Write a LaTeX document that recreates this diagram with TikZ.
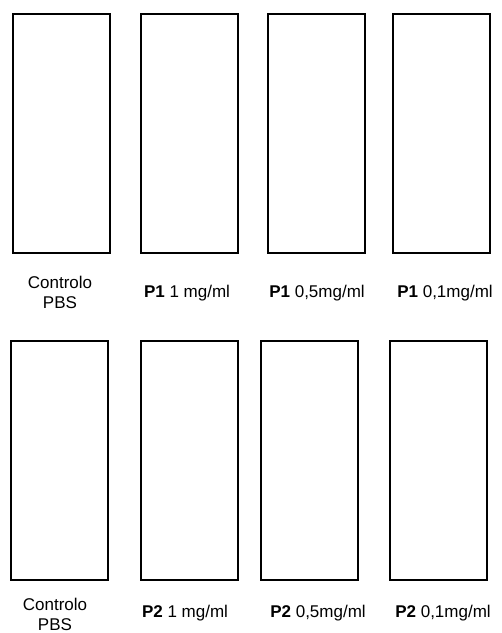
\documentclass[tikz,border=0pt]{standalone}
\usepackage{fontspec}
\setmainfont{Liberation Sans}
\begin{document}
\begin{tikzpicture}[x=1pt,y=-1pt,
  box/.style={draw=black, line width=2pt, inner sep=0pt, minimum width=97pt, minimum height=239pt},
  lbl/.style={inner sep=0pt, align=center, font=\fontsize{17}{20}\selectfont}]
\useasboundingbox (0,0) rectangle (502,633);
% top row
\node[box] (r1) at (61.5,133.5) {};
\node[box] (r2) at (189,133.5) {};
\node[box] (r3) at (316,133) {};
\node[box] (r4) at (441.5,133) {};
\node[lbl] (l1) at (60,292) {Controlo\\PBS};
\node[lbl] (l2) at (187,293) {\textbf{P1} 1 mg/ml};
\node[lbl] (l3) at (317,293) {\textbf{P1} 0,5mg/ml};
\node[lbl] (l4) at (445,293) {\textbf{P1} 0,1mg/ml};
% bottom row
\node[box] (s1) at (59,460) {};
\node[box] (s2) at (189,460) {};
\node[box] (s3) at (309,460) {};
\node[box] (s4) at (438,460) {};
\node[lbl] (m1) at (55,614) {Controlo\\PBS};
\node[lbl] (m2) at (185,613) {\textbf{P2} 1 mg/ml};
\node[lbl] (m3) at (318,613) {\textbf{P2} 0,5mg/ml};
\node[lbl] (m4) at (443,613) {\textbf{P2} 0,1mg/ml};
\end{tikzpicture}
\end{document}
